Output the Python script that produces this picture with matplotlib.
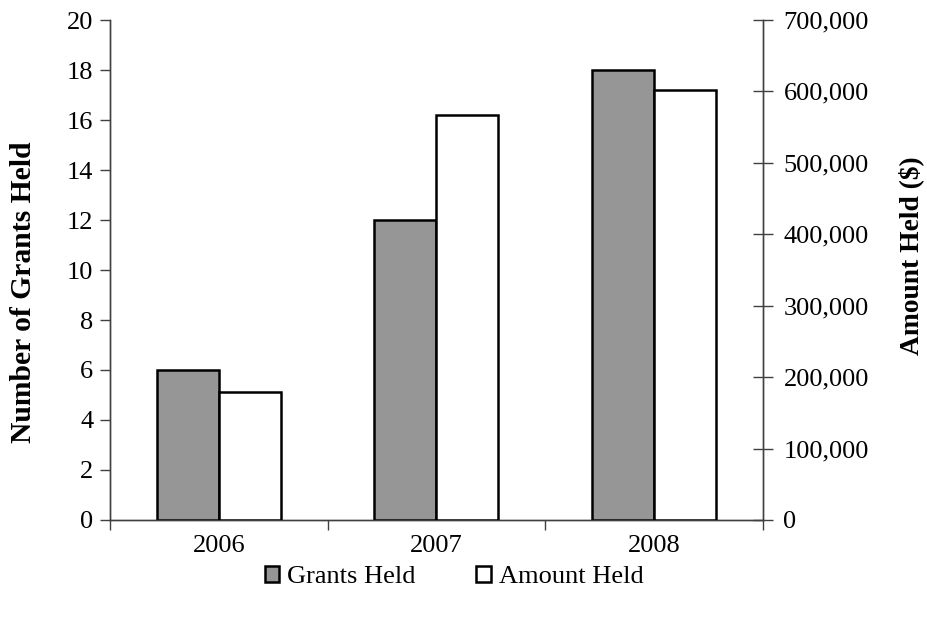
import matplotlib.pyplot as plt
from matplotlib.ticker import FuncFormatter, FixedLocator, NullFormatter

years = ['2006', '2007', '2008']
grants_held = [6, 12, 18]
amount_held = [179000, 567000, 602000]

plt.rcParams['font.family'] = ['Liberation Serif', 'DejaVu Serif']

fig = plt.figure(figsize=(9.27, 6.18), dpi=100)
ax = fig.add_axes([0.1187, 0.1586, 0.704, 0.809])
ax2 = ax.twinx()

x = list(range(len(years)))
w = 0.285
ax.bar([i - w for i in x], grants_held, width=w, align='edge',
       color='#969696', edgecolor='black', linewidth=1.8, label='Grants Held', zorder=3)
ax2.bar(x, amount_held, width=w, align='edge',
        color='white', edgecolor='black', linewidth=1.8, label='Amount Held', zorder=3)

ax.set_xlim(-0.5, len(years) - 0.5)
ax.set_ylim(0, 20)
ax.set_yticks(range(0, 21, 2))
ax2.set_ylim(0, 700000)
ax2.set_yticks(range(0, 700001, 100000))
ax2.yaxis.set_major_formatter(FuncFormatter(lambda v, p: f'{int(v):,}'))

# category boundaries get the tick marks, labels sit in the middle
ax.xaxis.set_major_locator(FixedLocator([-0.5, 0.5, 1.5, 2.5]))
ax.xaxis.set_major_formatter(NullFormatter())
ax.xaxis.set_minor_locator(FixedLocator(x))
ax.set_xticklabels(years, minor=True)
ax.tick_params(axis='x', which='major', direction='out', length=7, width=1, color='#404040')
ax.tick_params(axis='x', which='minor', length=0, pad=11, labelsize=19)

ax.tick_params(axis='y', direction='out', length=7, width=1, color='#404040', labelsize=19, pad=5)
ax2.tick_params(axis='y', direction='inout', length=14, width=1, color='#404040', labelsize=19, pad=8)

for a in (ax, ax2):
    a.spines['top'].set_visible(False)
    for s in ('left', 'right', 'bottom'):
        a.spines[s].set_color('#404040')
        a.spines[s].set_linewidth(1)

# axis titles placed as figure text
fig.text(0.025, 0.527, 'Number of Grants Held', rotation=90, ha='center', va='center',
         fontsize=21.3, fontweight='bold')
fig.text(0.983, 0.587, 'Amount Held ($)', rotation=90, ha='center', va='center',
         fontsize=19.8, fontweight='bold')

h1, l1 = ax.get_legend_handles_labels()
h2, l2 = ax2.get_legend_handles_labels()
fig.legend(h1 + h2, l1 + l2, loc='center', bbox_to_anchor=(0.49, 0.066), ncol=2,
           frameon=False, fontsize=19, handlelength=0.55, handleheight=0.55,
           handletextpad=0.3, columnspacing=2.3)

fig.savefig('out.png', dpi=100)
